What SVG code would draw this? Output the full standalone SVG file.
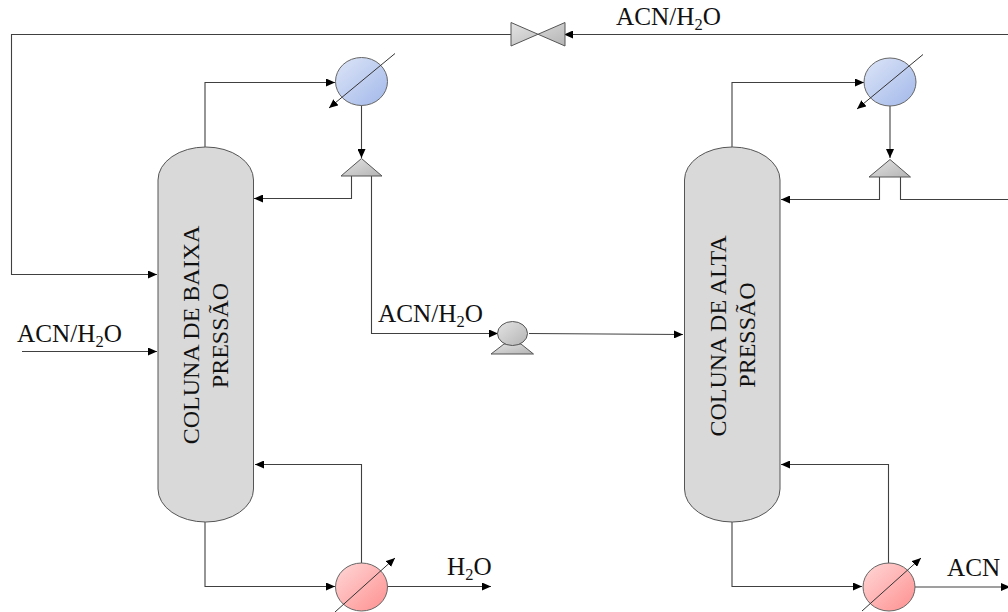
<svg xmlns="http://www.w3.org/2000/svg" width="1008" height="612" viewBox="0 0 1008 612">
<style>
.c{fill:none;stroke:#404040;stroke-width:1.1}
.t{font-family:"Liberation Serif","Times New Roman",serif;font-size:25.2px;fill:#111}
.n{font-size:24px}
.sub{font-size:16.5px}
.d{stroke:#333;stroke-width:1;fill:none}
.v{fill:url(#g);stroke:#555;stroke-width:1}
.col{fill:#d9d9d9;stroke:#555;stroke-width:1}
</style>
<defs>
<marker id="a" markerUnits="userSpaceOnUse" markerWidth="10" markerHeight="8" refX="9" refY="4" orient="auto"><path d="M0,0L9,4L0,8z" fill="#000"/></marker>
<linearGradient id="b" x1="0" y1="0" x2="1" y2="1"><stop offset="0" stop-color="#dde5f7"/><stop offset="1" stop-color="#a2b8ea"/></linearGradient>
<linearGradient id="r" x1="0" y1="0" x2="1" y2="1"><stop offset="0" stop-color="#ffd8d8"/><stop offset="1" stop-color="#fe8f8f"/></linearGradient>
<linearGradient id="g" x1="0" y1="0" x2="1" y2="1"><stop offset="0" stop-color="#e4e4e4"/><stop offset="1" stop-color="#b4b4b4"/></linearGradient>
</defs>
<g id="connectors">
<path class="c" marker-end="url(#a)" d="M1008,34.500H564"/>
<path class="c" marker-end="url(#a)" d="M511,34.500H11.500V274.500H157"/>
<path class="c" marker-end="url(#a)" d="M205,147V82.500H335"/>
<path class="c" marker-end="url(#a)" d="M361.500,105V158"/>
<path class="c" marker-end="url(#a)" d="M351.500,176V198.500H254"/>
<path class="c" marker-end="url(#a)" d="M371.500,176V333.500H498"/>
<path class="c" marker-end="url(#a)" d="M529,333.500L683,334.500"/>
<path class="c" marker-end="url(#a)" d="M22,351.500H157"/>
<path class="c" marker-end="url(#a)" d="M205,522V586.500H335"/>
<path class="c" marker-end="url(#a)" d="M361.500,564V464.500H255"/>
<path class="c" marker-end="url(#a)" d="M388,586.500H491"/>
<path class="c" marker-end="url(#a)" d="M732,148V82.500H864"/>
<path class="c" marker-end="url(#a)" d="M890,105V158"/>
<path class="c" marker-end="url(#a)" d="M879.500,177V199.500H781"/>
<path class="c" d="M900.500,177V199.500H1008"/>
<path class="c" marker-end="url(#a)" d="M732,522V586.500H862"/>
<path class="c" marker-end="url(#a)" d="M888.500,564V464.500H781"/>
<path class="c" marker-end="url(#a)" d="M915,587H1010"/>
</g>
<g id="col-baixa"><rect class="col" x="158" y="147" width="95.500" height="375" rx="47.700" ry="33"/>
<text class="t n" transform="translate(199,335) rotate(-90)" text-anchor="middle">COLUNA DE BAIXA</text>
<text class="t n" transform="translate(228,335.500) rotate(-90)" text-anchor="middle">PRESSÃO</text></g>
<g id="col-alta"><rect class="col" x="684.500" y="147" width="95.500" height="375" rx="47.700" ry="33"/>
<text class="t n" transform="translate(726,336) rotate(-90)" text-anchor="middle">COLUNA DE ALTA</text>
<text class="t n" transform="translate(754.500,335) rotate(-90)" text-anchor="middle">PRESSÃO</text></g>
<g id="valve"><path class="v" d="M511,22.500L565,46V22.500L511,46z"/></g>
<g id="cond1"><ellipse cx="361.500" cy="81.500" rx="26" ry="24" fill="url(#b)" stroke="#666"/>
<path class="d" marker-end="url(#a)" d="M395,53.500L329,108"/></g>
<g id="cond2"><ellipse cx="890" cy="82" rx="26" ry="24" fill="url(#b)" stroke="#666"/>
<path class="d" marker-end="url(#a)" d="M923,54.500L857,109"/></g>
<g id="split1"><path class="v" d="M361.500,158.500L382,176H341z"/></g>
<g id="split2"><path class="v" d="M890,159.500L910.500,177H869z"/></g>
<g id="reb1"><ellipse cx="361.500" cy="587" rx="26" ry="24" fill="url(#r)" stroke="#666"/>
<path class="d" marker-end="url(#a)" d="M335,612L395,558"/></g>
<g id="reb2"><ellipse cx="889" cy="587" rx="26" ry="24" fill="url(#r)" stroke="#666"/>
<path class="d" marker-end="url(#a)" d="M862,611L921,558"/></g>
<g id="pump"><path class="v" d="M504,344L491,354H533.500L521,344z"/><ellipse class="v" cx="512.500" cy="333.500" rx="15" ry="12"/></g>
<g id="labels">
<text class="t" x="616" y="25">ACN/H<tspan class="sub" dy="5">2</tspan><tspan dy="-5">O</tspan></text>
<text class="t" x="378" y="322">ACN/H<tspan class="sub" dy="5">2</tspan><tspan dy="-5">O</tspan></text>
<text class="t" x="17" y="342">ACN/H<tspan class="sub" dy="5">2</tspan><tspan dy="-5">O</tspan></text>
<text class="t" x="447" y="575">H<tspan class="sub" dy="5">2</tspan><tspan dy="-5">O</tspan></text>
<text class="t" x="947" y="576">ACN</text>
</g>
</svg>
